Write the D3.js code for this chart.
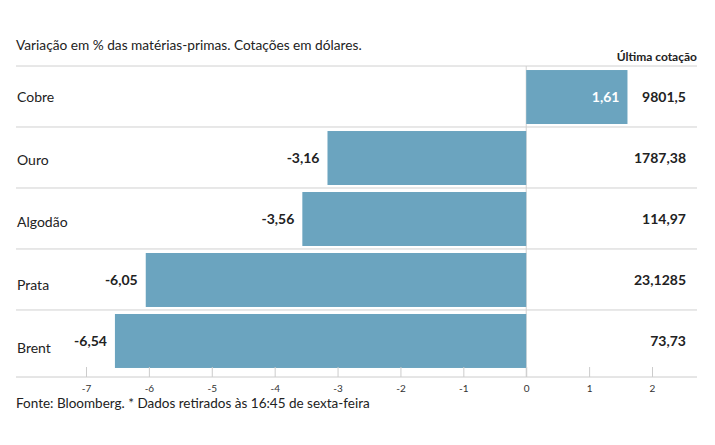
<!DOCTYPE html>
<html>
<head>
<meta charset="utf-8">
<script src="https://cdn.jsdelivr.net/npm/d3@7"></script>
<style>
  body { margin: 0; background: #fff; }
  text { font-family: Lato, "Noto Sans", sans-serif; fill: #222; }
</style>
</head>
<body>
<div id="chart"></div>
<script>
// data
var categories = ["Cobre", "Ouro", "Algodão", "Prata", "Brent"];
var variation = [1.61, -3.16, -3.56, -6.05, -6.54];
var lastQuote = ["9801,5", "1787,38", "114,97", "23,1285", "73,73"];
var ticks = [-7, -6, -5, -4, -3, -2, -1, 0, 1, 2];

var svgWidth = 715, svgHeight = 445;

var svg = d3.select("#chart")
  .append("svg")
  .attr("width", svgWidth)
  .attr("height", svgHeight);

// scales
var x = d3.scaleLinear()
  .domain([-7, 2])
  .range([86, 652]);

var y = d3.scaleBand()
  .domain(categories)
  .range([66, 372])
  .paddingInner(0.115)
  .paddingOuter(0.066);

// comma decimal, plain hyphen for the minus
var fmt = function(v) { return v.toFixed(2).replace(".", ","); };

// title + header
svg.append("text")
  .attr("x", 16).attr("y", 50)
  .style("font-size", "13.7px")
  .text("Variação em % das matérias-primas. Cotações em dólares.");

svg.append("text")
  .attr("x", 697).attr("y", 61)
  .attr("text-anchor", "end")
  .style("font-size", "12px")
  .style("font-weight", "bold")
  .text("Última cotação");

// row separators
var step = y.step();
var seps = d3.range(categories.length).map(function(i) { return 66 + i * step; });
svg.selectAll("line.sep")
  .data(seps)
  .enter()
  .append("line")
  .attr("class", "sep")
  .attr("x1", 16).attr("x2", 697)
  .attr("y1", d => d).attr("y2", d => d)
  .attr("stroke", "#d0d0d0")
  .attr("stroke-width", 1);

// zero line
svg.append("line")
  .attr("x1", x(0)).attr("x2", x(0))
  .attr("y1", 66).attr("y2", 377)
  .attr("stroke", "#d0d0d0");

// bars
svg.selectAll("rect.bar")
  .data(variation)
  .enter()
  .append("rect")
  .attr("class", "bar")
  .attr("x", d => x(Math.min(0, d)))
  .attr("width", d => Math.abs(x(d) - x(0)))
  .attr("y", (d, i) => y(categories[i]))
  .attr("height", y.bandwidth())
  .attr("fill", "#6ba4bf");

// category labels
svg.selectAll("text.cat")
  .data(categories)
  .enter()
  .append("text")
  .attr("class", "cat")
  .attr("x", 17)
  .attr("y", (d, i) => y(d) + y.bandwidth() / 2 + i * 1.7)
  .attr("dy", "0.35em")
  .style("font-size", "14px")
  .text(d => d);

// value labels
svg.selectAll("text.val")
  .data(variation)
  .enter()
  .append("text")
  .attr("class", "val")
  .attr("x", d => x(d) - 8)
  .attr("y", (d, i) => y(categories[i]) + y.bandwidth() / 2)
  .attr("dy", "0.35em")
  .attr("text-anchor", "end")
  .style("font-size", "14px")
  .style("font-weight", "bold")
  .style("fill", d => d > 0 ? "#fff" : "#222")
  .text(d => fmt(d));

// last quote
svg.selectAll("text.quote")
  .data(lastQuote)
  .enter()
  .append("text")
  .attr("class", "quote")
  .attr("x", 686)
  .attr("y", (d, i) => y(categories[i]) + y.bandwidth() / 2)
  .attr("dy", "0.35em")
  .attr("text-anchor", "end")
  .style("font-size", "14px")
  .style("font-weight", "bold")
  .text(d => d);

// axis
var axis = svg.append("g")
  .attr("transform", "translate(0,377)")
  .call(d3.axisTop(x).tickValues(ticks).tickSize(10).tickFormat(d => String(d)));
axis.select(".domain").remove();
axis.selectAll(".tick line").attr("stroke", "#ccc");
axis.selectAll(".tick text")
  .attr("y", 15)
  .attr("dy", 0)
  .style("font-size", "10px")
  .style("font-family", "Lato, sans-serif")
  .style("fill", "#333");

svg.append("line")
  .attr("x1", 16).attr("x2", 697)
  .attr("y1", 377).attr("y2", 377)
  .attr("stroke", "#ccc");

// footer
svg.append("text")
  .attr("x", 16).attr("y", 408)
  .style("font-size", "13.5px")
  .text("Fonte: Bloomberg.  * Dados retirados às 16:45 de sexta-feira");
</script>
</body>
</html>
